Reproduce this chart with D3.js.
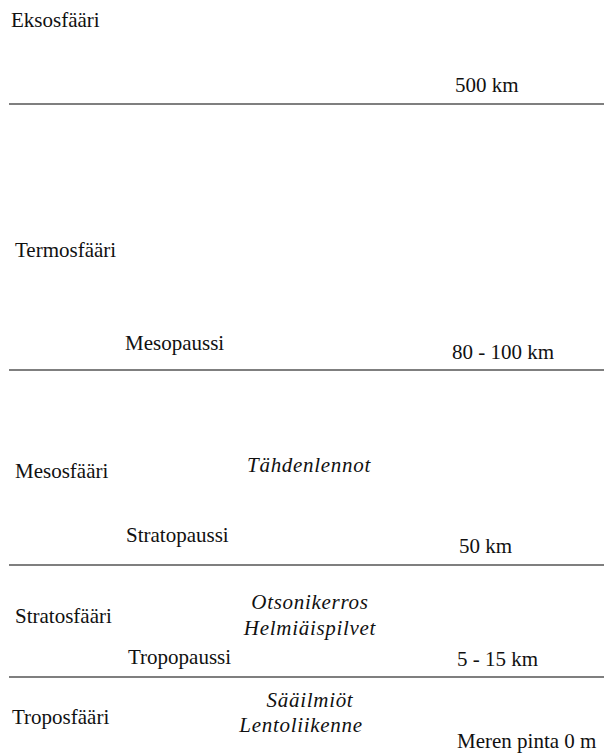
<!DOCTYPE html>
<html>
<head>
<meta charset="utf-8">
<script src="https://cdn.jsdelivr.net/npm/d3@7"></script>
<style>
  body { margin: 0; background: #fff; }
  text.lbl { font: 21px serif; }
  text.ital { font-style: italic; }
</style>
</head>
<body>
<div id="chart"></div>
<script>
var width = 604, height = 756;

// layers of the atmosphere, top to bottom
var layers = ["Eksosfääri", "Termosfääri", "Mesosfääri", "Stratosfääri", "Troposfääri"];
// boundary between layer i and i+1
var pauses = ["", "Mesopaussi", "Stratopaussi", "Tropopaussi"];
var altitudes = ["500 km", "80 - 100 km", "50 km", "5 - 15 km", "Meren pinta 0 m"];
// phenomena in each layer (italic, centred)
var phenomena = [[], [], ["Tähdenlennot"], ["Otsonikerros", "Helmiäispilvet"], ["Sääilmiöt", "Lentoliikenne"]];

// layout (pixel positions, baselines)
var lineY = [104, 370, 565, 677];
var layerLabelY = [27, 257, 478, 623, 724];
var layerLabelX = [11, 15, 15, 15, 12];
var pauseX = [0, 125, 126, 128];
var pauseY = [0, 350, 542, 664];
var altX = [455, 452, 459, 457, 457];
var altY = [92, 359, 553, 666, 748];
var phenY = [[], [], [472], [609, 635], [707, 732]];
var phenX = [[], [], [309], [310, 310], [310, 301]];

var svg = d3.select("#chart").append("svg")
  .attr("width", width)
  .attr("height", height);

// separator lines
svg.selectAll("line.sep")
  .data(lineY)
  .enter().append("line")
  .attr("class", "sep")
  .attr("x1", 9).attr("x2", width)
  .attr("y1", function (d) { return d; })
  .attr("y2", function (d) { return d; })
  .attr("stroke", "#555")
  .attr("stroke-width", 1.6);

// collect all labels
var labels = [];
layers.forEach(function (t, i) { labels.push({ text: t, x: layerLabelX[i], y: layerLabelY[i] }); });
pauses.forEach(function (t, i) { if (t) labels.push({ text: t, x: pauseX[i], y: pauseY[i] }); });
altitudes.forEach(function (t, i) { labels.push({ text: t, x: altX[i], y: altY[i] }); });
phenomena.forEach(function (list, i) {
  list.forEach(function (t, j) { labels.push({ text: t, x: phenX[i][j], y: phenY[i][j], ital: true }); });
});

svg.selectAll("text.lbl")
  .data(labels)
  .enter().append("text")
  .attr("class", function (d) { return d.ital ? "lbl ital" : "lbl"; })
  .attr("x", function (d) { return d.x; })
  .attr("y", function (d) { return d.y; })
  .attr("fill", "#111")
  .attr("letter-spacing", function (d) { return d.ital ? 0.7 : null; })
  .attr("text-anchor", function (d) { return d.ital ? "middle" : null; })
  .text(function (d) { return d.text; });
</script>
</body>
</html>
